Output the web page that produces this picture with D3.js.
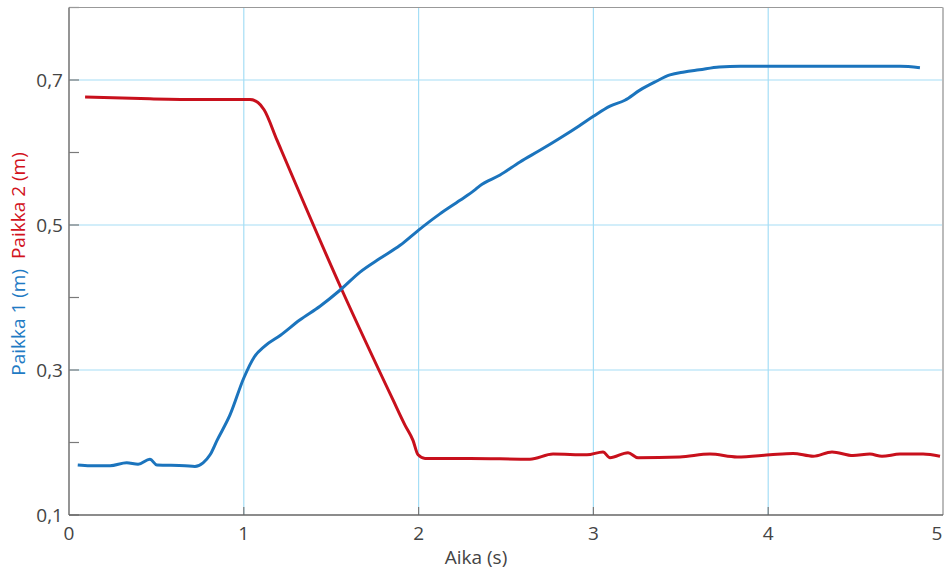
<!DOCTYPE html>
<html><head><meta charset="utf-8">
<script src="https://cdn.jsdelivr.net/npm/d3@7"></script>
<style>body{margin:0;background:#fff}svg{display:block}text{font-family:"Open Sans",sans-serif}</style>
</head><body><svg id="c" width="946" height="569"></svg>
<script>
const blueT = [0.05,0.12,0.235,0.33,0.395,0.463,0.503,0.664,0.72,0.767,0.807,0.847,0.921,1.0,1.06,1.12,1.21,1.32,1.436,1.55,1.665,1.78,1.894,2.0,2.12,2.237,2.32,2.35,2.466,2.58,2.694,2.81,2.92,3.0,3.095,3.18,3.266,3.35,3.438,3.52,3.606,3.72,3.84,4.18,4.754,4.868];
const blueV = [0.169,0.168,0.168,0.172,0.170,0.177,0.169,0.168,0.167,0.172,0.183,0.203,0.238,0.289,0.318,0.333,0.348,0.369,0.388,0.410,0.435,0.454,0.472,0.493,0.515,0.534,0.548,0.554,0.569,0.587,0.603,0.620,0.637,0.650,0.664,0.672,0.686,0.697,0.707,0.711,0.714,0.718,0.719,0.719,0.719,0.717];
const redT = [0.092,0.463,0.749,1.035,1.081,1.116,1.19,1.562,1.853,1.922,1.968,1.997,2.037,2.294,2.637,2.769,2.963,3.055,3.095,3.198,3.255,3.495,3.667,3.822,4.01,4.142,4.257,4.365,4.485,4.582,4.651,4.754,4.886,4.983];
const redV = [0.6766,0.674,0.673,0.673,0.669,0.659,0.617,0.410,0.259,0.224,0.203,0.183,0.178,0.178,0.177,0.184,0.183,0.187,0.179,0.186,0.179,0.180,0.184,0.180,0.183,0.185,0.181,0.187,0.182,0.184,0.181,0.184,0.184,0.181];
const xTicks = [0,1,2,3,4,5];
const yMajor = [0.1,0.3,0.5,0.7];
const yMinor = [0.2,0.4,0.6,0.8];
const yLabels = ["0,1","0,3","0,5","0,7"];

const svg = d3.select("#c");
const L=69, R=943, T=7.5, B=515;
const x = d3.scaleLinear().domain([0,5]).range([L,R]);
const y = d3.scaleLinear().domain([0.1,0.8]).range([B,T]);
const grid="#a5def6", axc="#7a7a7a", txt="#444";
const fs = 19;

svg.selectAll(".vg").data(xTicks.slice(1,5)).enter().append("line")
  .attr("x1",d=>x(d)).attr("x2",d=>x(d)).attr("y1",T).attr("y2",B)
  .attr("stroke",grid).attr("stroke-width",1.2);
svg.selectAll(".hg").data(yMajor.slice(1)).enter().append("line")
  .attr("x1",L).attr("x2",R).attr("y1",d=>y(d)).attr("y2",d=>y(d))
  .attr("stroke",grid).attr("stroke-width",1.2);
svg.selectAll(".yt").data(yMajor.concat(yMinor)).enter().append("line")
  .attr("x1",L).attr("x2",L+10).attr("y1",d=>y(d)).attr("y2",d=>y(d))
  .attr("stroke",axc).attr("stroke-width",1.2);
svg.selectAll(".xt").data(xTicks.slice(1,5)).enter().append("line")
  .attr("x1",d=>x(d)).attr("x2",d=>x(d)).attr("y1",B).attr("y2",B-8)
  .attr("stroke",axc).attr("stroke-width",1.2);
svg.append("line").attr("x1",L).attr("x2",R).attr("y1",T).attr("y2",T).attr("stroke","#999").attr("stroke-width",1.2);
svg.append("line").attr("x1",R).attr("x2",R).attr("y1",T).attr("y2",B).attr("stroke","#bbb").attr("stroke-width",2);
svg.append("line").attr("x1",L).attr("x2",L).attr("y1",T).attr("y2",B).attr("stroke",axc).attr("stroke-width",1.6);
svg.append("line").attr("x1",L).attr("x2",R).attr("y1",B).attr("y2",B).attr("stroke","#666").attr("stroke-width",1.6);

svg.selectAll(".yl").data(yMajor).enter().append("text")
  .attr("x",L-6).attr("y",d=>y(d)).attr("dy","0.35em").attr("text-anchor","end")
  .attr("font-size",fs).attr("fill",txt).text((d,i)=>yLabels[i]);
svg.selectAll(".xl").data(xTicks).enter().append("text")
  .attr("x",d=>Math.min(x(d),937)).attr("y",B+25).attr("text-anchor","middle")
  .attr("font-size",fs).attr("fill",txt).text(d=>d);
svg.append("text").attr("x",476).attr("y",564).attr("text-anchor","middle")
  .attr("font-size",fs).attr("fill",txt).text("Aika (s)");
const yl = svg.append("text").attr("transform","translate(25,264) rotate(-90)")
  .attr("text-anchor","middle").attr("font-size",fs);
yl.append("tspan").attr("fill","#1f7bc4").text("Paikka 1 (m)");
yl.append("tspan").attr("fill","#d2121c").text("\u00a0 Paikka 2 (m)");

const line = d3.line().x(d=>x(d[0])).y(d=>y(d[1])).curve(d3.curveMonotoneX);
svg.append("path").datum(redT.map((t,i)=>[t,redV[i]])).attr("d",line)
  .attr("fill","none").attr("stroke","#c8101c").attr("stroke-width",3).attr("stroke-linejoin","round");
svg.append("path").datum(blueT.map((t,i)=>[t,blueV[i]])).attr("d",line)
  .attr("fill","none").attr("stroke","#1b74bd").attr("stroke-width",3).attr("stroke-linejoin","round");
</script></body></html>
